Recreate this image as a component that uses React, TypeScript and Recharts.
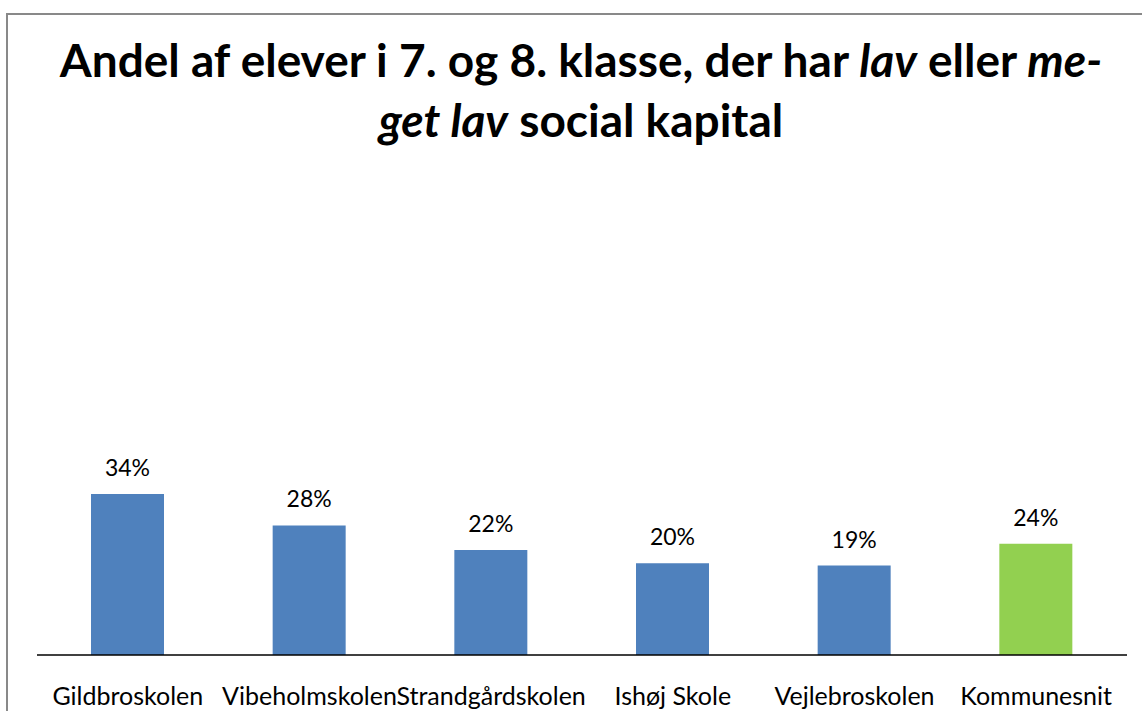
import { BarChart, Bar, XAxis, YAxis, Cell, LabelList } from "recharts";

const schools = [
  "Gildbroskolen",
  "Vibeholmskolen",
  "Strandgårdskolen",
  "Ishøj Skole",
  "Vejlebroskolen",
  "Kommunesnit",
];
const shareLowCapital = [0.342, 0.275, 0.223, 0.195, 0.19, 0.236];
const barColors = ["#4F81BD", "#4F81BD", "#4F81BD", "#4F81BD", "#4F81BD", "#92D050"];

const data = schools.map((name, i) => ({ name, value: shareLowCapital[i] }));

const FONT = "Lato, 'Open Sans', sans-serif";

function SchoolTick(props: any) {
  const { x, y, payload } = props;
  return (
    <text
      x={x}
      y={y + 42}
      textAnchor="middle"
      fontSize={25}
      fontFamily={FONT}
      fill="#000"
    >
      {payload.value}
    </text>
  );
}

export default function App() {
  return (
    <div
      style={{
        position: "absolute",
        left: 0,
        top: 0,
        width: 1142,
        height: 711,
        overflow: "hidden",
        background: "#fff",
      }}
    >
      <div
        style={{
          position: "absolute",
          left: 6,
          top: 13,
          width: 1160,
          height: 720,
          border: "2px solid #898989",
        }}
      />
      <div
        style={{
          position: "absolute",
          left: 0,
          top: 30,
          width: 1162,
          textAlign: "center",
          fontFamily: FONT,
          fontWeight: 700,
          fontSize: 46,
          lineHeight: "60px",
          color: "#000",
        }}
      >
        <div>
          Andel af elever i 7. og 8. klasse, der har <i>lav</i> eller <i>me-</i>
        </div>
        <div>
          <i>get lav</i> social kapital
        </div>
      </div>
      <div style={{ position: "absolute", left: 0, top: 0 }}>
        <BarChart
          width={1142}
          height={711}
          data={data}
          margin={{ top: 184, right: 15, bottom: 0, left: 37 }}
          barSize={73}
        >
          <XAxis
            dataKey="name"
            height={56}
            axisLine={{ stroke: "#000", strokeWidth: 1.5 }}
            tickLine={false}
            tick={<SchoolTick />}
            interval={0}
          />
          <YAxis hide domain={[0, 1]} />
          <Bar dataKey="value" isAnimationActive={false}>
            {data.map((d, i) => (
              <Cell key={d.name} fill={barColors[i]} />
            ))}
            <LabelList
              dataKey="value"
              position="top"
              offset={18}
              formatter={(v: any) => `${Math.round(Number(v) * 100)}%`}
              style={{ fontSize: 23, fill: "#000", fontFamily: FONT }}
            />
          </Bar>
        </BarChart>
      </div>
    </div>
  );
}
